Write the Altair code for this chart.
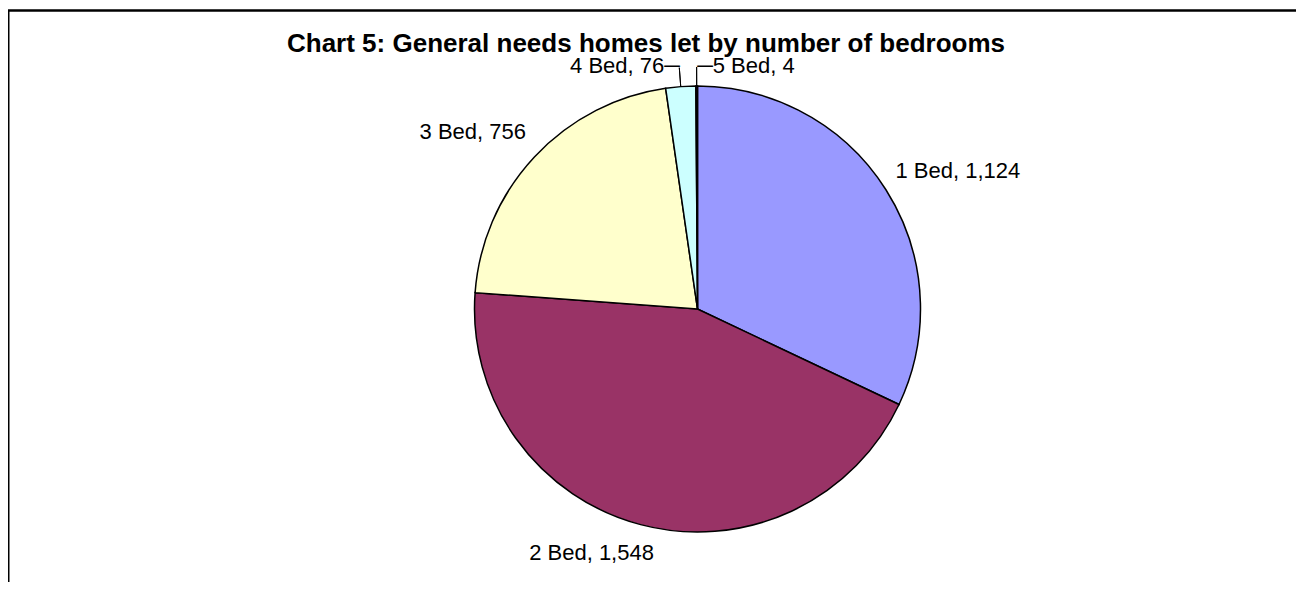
import math
import altair as alt
import pandas as pd

# ---- data ----
categories = ["1 Bed", "2 Bed", "3 Bed", "4 Bed", "5 Bed"]
values = [1124, 1548, 756, 76, 4]
colors = ["#9999FF", "#993366", "#FFFFCC", "#CCFFFF", "#660066"]
title_text = "Chart 5: General needs homes let by number of bedrooms"

labels = [f"{c}, {v:,}" for c, v in zip(categories, values)]
labels[3] = labels[3] + "\u2500"
labels[4] = "\u2500" + labels[4]

df = pd.DataFrame({"cat": categories, "value": values, "idx": list(range(len(values))), "label": labels})
total = sum(values)

FONT = "Liberation Sans, Arial, sans-serif"
W, H = 1288, 574
CX, CY = 689.5, 301
R = 223
LR = 235

theta_scale = alt.Scale(domain=[0, total], range=[0, 2 * math.pi])

base = (
    alt.Chart(df)
    .transform_window(a1="sum(value)", sort=[alt.SortField("idx")], frame=[None, 0])
    .transform_calculate(a0="datum.a1 - datum.value", mid="datum.a1 - datum.value / 2")
)

arcs = base.mark_arc(outerRadius=R, stroke="black", strokeWidth=1.5).encode(
    theta=alt.Theta("a0:Q", scale=theta_scale),
    theta2="a1:Q",
    color=alt.Color("cat:N", scale=alt.Scale(domain=categories, range=colors), legend=None),
    x=alt.value(CX),
    y=alt.value(CY),
)

leaders = (
    base.transform_filter(alt.FieldOneOfPredicate(field="cat", oneOf=["4 Bed", "5 Bed"]))
    .mark_arc(innerRadius=R, outerRadius=242, stroke="black", strokeWidth=1, fillOpacity=0)
    .encode(
        theta=alt.Theta("mid:Q", scale=theta_scale),
        theta2="mid:Q",
        x=alt.value(CX),
        y=alt.value(CY),
    )
)

label_style = {
    "1 Bed": dict(align="left", dx=-0.6, dy=-5),
    "2 Bed": dict(align="center", dx=-46, dy=24),
    "3 Bed": dict(align="right", dx=0.4, dy=-9.4),
    "4 Bed": dict(align="right", dx=0, dy=-1.4),
    "5 Bed": dict(align="left", dx=0.5, dy=-0.7),
}

text_layers = []
for c in categories:
    st = label_style[c]
    t = (
        base.transform_filter(alt.datum.cat == c)
        .mark_text(radius=LR, baseline="alphabetic", fontSize=22, font=FONT, color="black", **st)
        .encode(
            theta=alt.Theta("mid:Q", scale=theta_scale, stack=False),
            text="label:N",
            x=alt.value(CX),
            y=alt.value(CY),
        )
    )
    text_layers.append(t)

one = alt.Data(values=[{}])
title = alt.Chart(one).mark_text(
    align="left", baseline="alphabetic", fontSize=26, fontWeight="bold", font=FONT, color="black"
).encode(x=alt.value(279), y=alt.value(44), text=alt.value(title_text))

frame_left = alt.Chart(one).mark_rule(color="black", strokeWidth=2).encode(
    x=alt.value(0.5), y=alt.value(2.5), y2=alt.value(H)
)
frame_top = alt.Chart(one).mark_rule(color="black", strokeWidth=2.5).encode(
    x=alt.value(0), x2=alt.value(W), y=alt.value(2.5)
)

chart = (
    alt.layer(arcs, leaders, *text_layers, title, frame_left, frame_top)
    .properties(width=W, height=H, autosize=alt.AutoSizeParams(type="none"), padding=0)
    .configure_view(stroke=None)
)

chart.save("out.html", embed_options={"renderer": "svg", "actions": False})
